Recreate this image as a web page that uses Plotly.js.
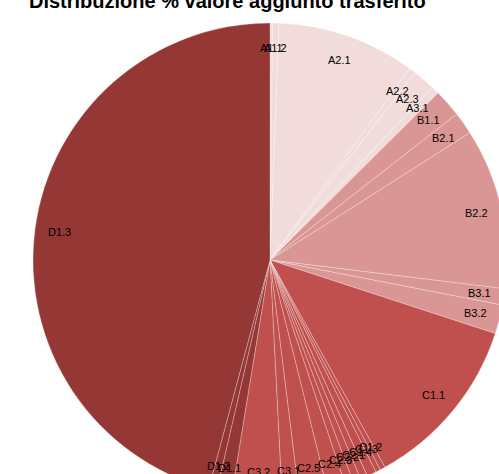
<!DOCTYPE html>
<html>
<head>
<meta charset="utf-8">
<script src="https://cdn.plot.ly/plotly-3.0.1.min.js"></script>
<style>
html,body{margin:0;padding:0;overflow:hidden;background:#fff;width:499px;height:474px;}
#chart{position:absolute;left:0;top:-40px;width:540px;height:580px;}
</style>
</head>
<body>
<div id="chart"></div>
<script>
var categories = ["A1.1","A1.2","A2.1","A2.2","A2.3","A3.1","B1.1","B2.1","B2.2","B3.1","B3.2",
  "C1.1","C1.2","C1.3","C1.4","C2.1","C2.2","C2.3","C2.4","C2.5","C3.1","C3.2","D1.1","D1.2","D1.3"];
var values = [0.17,0.44,9.44,0.44,1.50,0.56,1.89,1.53,10.97,1.11,1.97,
  11.92,0.36,0.33,0.64,0.50,0.53,0.56,1.25,1.94,1.14,3.39,1.03,0.56,45.83];
var groupColors = {A:"#F2DCDB", B:"#D99694", C:"#C0504D", D:"#953735"};
var titleText = "Distribuzione % valore aggiunto trasferito";

var W = 540, H = 580, cx = 270, cy = 300, R = 237, labelR = 212;
var colors = categories.map(function(c){ return groupColors[c.charAt(0)]; });

var total = values.reduce(function(a,b){return a+b;},0);
var annotations = [];
var cum = 0;
for (var i = 0; i < values.length; i++) {
  var mid = (cum + values[i]/2) / total * 2*Math.PI;
  cum += values[i];
  var px = cx + labelR*Math.sin(mid), py = cy - labelR*Math.cos(mid);
  annotations.push({x: px/W, y: 1 - py/H, xref:"paper", yref:"paper", text: categories[i],
    showarrow:false, xanchor:"center", yanchor:"middle",
    font:{family:"Liberation Sans, Arial, sans-serif", size:11, color:"#000"}});
}
annotations.push({x: 227/W, y: 1 - 54/H, xref:"paper", yref:"paper", text:"<b>"+titleText+"</b>",
  showarrow:false, xanchor:"center", yanchor:"bottom",
  font:{family:"Liberation Sans, Arial, sans-serif", size:20, color:"#000"}});

var trace = {
  type:"pie", labels:categories, values:values, sort:false, direction:"clockwise", rotation:0,
  marker:{colors:colors, line:{color:"rgba(255,255,255,0.45)", width:0.6}},
  textinfo:"none", hoverinfo:"label+percent",
  domain:{x:[(cx-R)/W,(cx+R)/W], y:[(H-cy-R)/H,(H-cy+R)/H]}
};
var layout = {width:W, height:H, margin:{l:0,r:0,t:0,b:0}, showlegend:false,
  paper_bgcolor:"#fff", annotations:annotations};
Plotly.newPlot("chart",[trace],layout,{staticPlot:true});
</script>
</body>
</html>
